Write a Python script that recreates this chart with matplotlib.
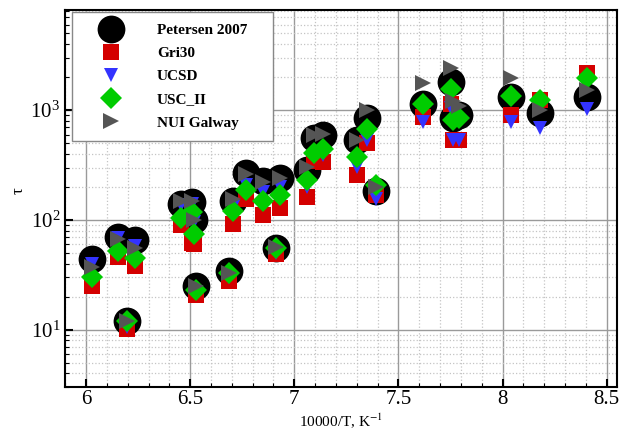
import matplotlib
matplotlib.use('Agg')
import matplotlib.pyplot as plt
from matplotlib.ticker import LogLocator, MultipleLocator, NullFormatter

plt.rcParams['font.family'] = ['Liberation Serif', 'DejaVu Serif']
plt.rcParams['mathtext.fontset'] = 'stix'

# 10000/T positions of the measurements
x_vals = [6.03, 6.155, 6.195, 6.235, 6.455, 6.51, 6.52, 6.53, 6.685, 6.705,
          6.77, 6.85, 6.91, 6.93, 7.06, 7.095, 7.14, 7.30, 7.35, 7.39,
          7.62, 7.75, 7.76, 7.79, 8.04, 8.18, 8.405]

petersen = [44, 70, 12, 65, 140, 145, 99, 25, 34, 150,
            265, 225, 55, 240, 283, 560, 590, 530, 840, 183,
            1150, 1800, 850, 900, 1325, 944, 1325]
gri30 = [25, 46, 10.2, 38, 89, 62, 60, 20.5, 28, 92,
         155, 110, 49, 128, 161, 345, 338, 255, 497, 167,
         870, 1150, 530, 530, 900, 1250, 2160]
ucsd = [40, 68, 10.6, 58, 136, 140, 95, 22, 30, 130,
        210, 180, 50, 200, 200, 375, 390, 304, 530, 155,
        780, 1040, 530, 530, 780, 695, 1035]
usc_ii = [30, 52, 12, 45, 105, 117, 75, 23, 33, 120,
          186, 150, 55, 170, 229, 407, 446, 375, 667, 206,
          1150, 1550, 810, 840, 1350, 1240, 1950]
nui_galway = [37, 67, 12, 56, 150, 150, 99, 25, 33, 155,
              263, 220, 57, 240, 303, 590, 610, 532, 1000, 200,
              1750, 2400, 1200, 1100, 1950, 1000, 1525]

series = [
    ('Petersen 2007', petersen, 'o', '#000000', 20),
    ('Gri30', gri30, 's', '#d40000', 11.5),
    ('UCSD', ucsd, 'v', '#3333ff', 10),
    ('USC_II', usc_ii, 'D', '#00cc00', 11),
    ('NUI Galway', nui_galway, '>', '#555555', 11),
]

fig = plt.figure(figsize=(6.19, 4.30), dpi=100)
ax = fig.add_axes([0.105, 0.100, 0.892, 0.877])

for label, vals, marker, color, ms in series:
    ax.plot(x_vals, vals, linestyle='none', marker=marker, color=color,
            markersize=ms, markeredgewidth=0, label=label)

ax.set_yscale('log')
ax.set_xlim(5.899, 8.55)
ax.set_ylim(3.0, 8200)

ax.xaxis.set_major_locator(MultipleLocator(0.5))
ax.xaxis.set_minor_locator(MultipleLocator(0.1))
ax.yaxis.set_major_locator(LogLocator(base=10, numticks=10))
ax.yaxis.set_minor_locator(LogLocator(base=10, subs=range(2, 10), numticks=10))
ax.yaxis.set_minor_formatter(NullFormatter())
ax.set_xticks([6, 6.5, 7, 7.5, 8, 8.5])
ax.set_xticklabels(['6', '6.5', '7', '7.5', '8', '8.5'])

ax.grid(which='major', color='#9a9a9a', linestyle='-', linewidth=1.0)
ax.grid(which='minor', color='#c4c4c4', linestyle=':', linewidth=0.9)
ax.set_axisbelow(True)

ax.tick_params(which='major', direction='in', length=6, width=1.5,
               labelsize=15, top=False, right=False)
ax.tick_params(axis='x', which='major', pad=2)
ax.tick_params(which='minor', direction='in', length=3, width=0.8,
               top=False, right=False)
for sp in ax.spines.values():
    sp.set_linewidth(1.5)

ax.set_xlabel('10000/T, K$^{-1}$', fontsize=11)
ax.xaxis.set_label_coords(0.5, -0.065)
ax.set_ylabel('τ', fontsize=12)
ax.yaxis.set_label_coords(-0.069, 0.52)

leg = ax.legend(loc='upper left', bbox_to_anchor=(0.0127, 0.5, 0.364, 0.4947),
                mode='expand', borderaxespad=0, fancybox=False, framealpha=1,
                edgecolor='#888888', borderpad=0.75, handlelength=3.6,
                handletextpad=1.2, labelspacing=0.62,
                prop={'weight': 'bold', 'size': 11})
leg.get_frame().set_linewidth(1.0)

fig.savefig('out.png', dpi=100)
